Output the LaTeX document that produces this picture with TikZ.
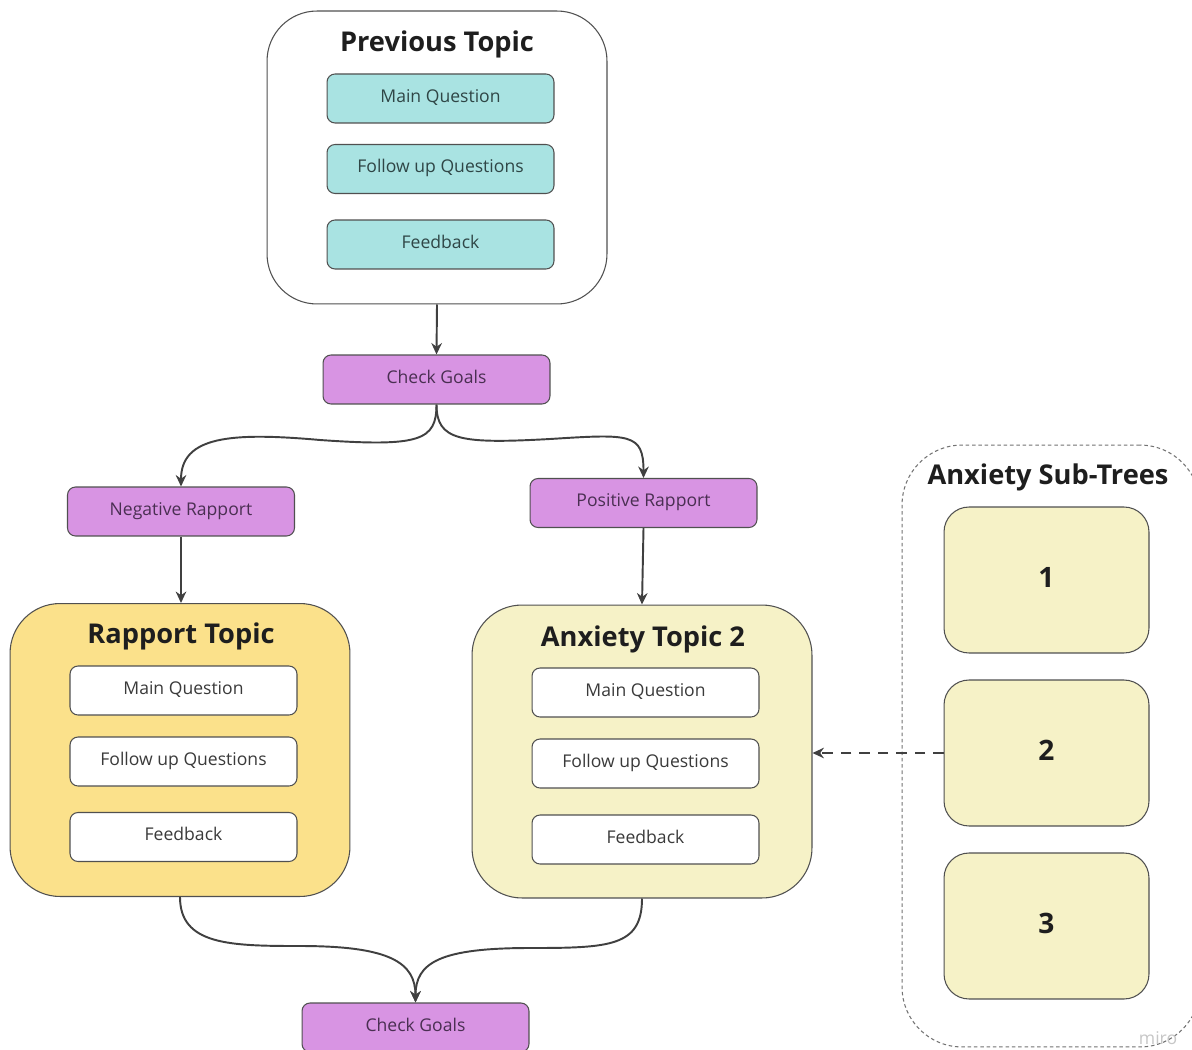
\documentclass[tikz,border=0pt]{standalone}
\usepackage{fontspec}
\setmainfont{Open Sans}
\usetikzlibrary{arrows.meta}
\definecolor{tealfill}{HTML}{A9E3E2}
\definecolor{purplefill}{HTML}{D894E3}
\definecolor{rapfill}{HTML}{FBE18B}
\definecolor{anxfill}{HTML}{F6F2C7}
\definecolor{edge}{HTML}{505050}
\definecolor{ink}{HTML}{1E1E1E}
\definecolor{bodyink}{HTML}{3A3A3A}
\definecolor{purpleink}{HTML}{4A2F52}
\definecolor{tealink}{HTML}{2F4646}
\begin{document}
\begin{tikzpicture}[x=0.02cm,y=-0.02cm,
  topic/.style={draw=edge,line width=0.6pt,rounded corners=1cm,minimum width=6.8cm,minimum height=5.86cm},
  item/.style={draw=edge,line width=0.6pt,rounded corners=0.16cm,minimum width=4.54cm,minimum height=0.98cm,
    text height=7pt,text depth=2.5pt,font=\fontsize{10}{12}\selectfont,text=bodyink},
  tealitem/.style={item,fill=tealfill,text=tealink},
  whiteitem/.style={item,fill=white},
  decision/.style={item,fill=purplefill,text=purpleink},
  title/.style={font=\fontsize{15.5}{18}\selectfont\bfseries,text=ink},
  subtree/.style={draw=edge,line width=0.6pt,fill=anxfill,rounded corners=0.5cm,minimum width=4.1cm,minimum height=2.92cm,
    text height=12pt,text depth=4pt,font=\fontsize{16}{18}\selectfont\bfseries,text=ink},
  arr/.style={draw=ink!85,line width=1.1pt,-{Stealth[length=6.5pt,width=6pt]}},
]
\useasboundingbox (0,0) rectangle (1192,1050);
\clip (0,0) rectangle (1192,1050);
\fill[white] (0,0) rectangle (1192,1050);

% previous topic
\node[topic,fill=white] (prev) at (437,157.5) {};
\node[title] (prevtitle) at (437,44) {Previous Topic};
\node[tealitem] (pmq) at (440.5,98.5) {Main Question};
\node[tealitem] (pfu) at (440.5,169) {Follow up Questions};
\node[tealitem] (pfb) at (440.5,244.5) {Feedback};

% goal check after the previous topic
\node[decision] (cg1) at (436.5,379.5) {Check Goals};
\draw[arr] (prev.south) -- (cg1.north);

% rapport outcomes
\node[decision] (neg) at (181,511.5) {Negative Rapport};
\node[decision] (pos) at (643.5,503) {Positive Rapport};
\draw[arr] (cg1.south) .. controls +(0,36) and +(100,7) .. (320,440)
  .. controls +(-90,-8) and +(0,-50) .. (neg.north);
\draw[arr] (cg1.south) .. controls +(0,36) and +(-90,5) .. (550,439)
  .. controls +(80,-5) and +(0,-45) .. (pos.north);

% rapport topic
\node[topic,fill=rapfill] (rap) at (180,750) {};
\node[title] (raptitle) at (181,636) {Rapport Topic};
\node[whiteitem] (rmq) at (183.5,690.5) {Main Question};
\node[whiteitem] (rfu) at (183.5,761.5) {Follow up Questions};
\node[whiteitem] (rfb) at (183.5,837) {Feedback};

% anxiety topic
\node[topic,fill=anxfill] (anx) at (642,751.5) {};
\node[title] (anxtitle) at (643,639) {Anxiety Topic 2};
\node[whiteitem] (amq) at (645.5,692.5) {Main Question};
\node[whiteitem] (afu) at (645.5,763.5) {Follow up Questions};
\node[whiteitem] (afb) at (645.5,839.5) {Feedback};

\draw[arr] (neg.south) -- (neg.south |- rap.north);
\draw[arr] (pos.south) -- (anx.north);

% goal check after the topics
\node[decision] (cg2) at (415.5,1027.5) {Check Goals};
\draw[arr] (rap.south) .. controls +(0,48) and +(-70,0) .. (300,946)
  .. controls +(90,0) and +(0,-40) .. (cg2.north);
\draw[arr] (anx.south) .. controls +(0,48) and +(80,0) .. (530,948)
  .. controls +(-90,0) and +(0,-40) .. (cg2.north);

% anxiety sub-trees
\node[draw=edge!80,line width=0.6pt,dash pattern=on 2pt off 1.6pt,rounded corners=1.2cm,
  minimum width=5.96cm,minimum height=12.04cm] (subs) at (1051,746) {};
\node[title] (substitle) at (1048,477) {Anxiety Sub-Trees};
\node[subtree] (s1) at (1046.5,580) {1};
\node[subtree] (s2) at (1046.5,753) {2};
\node[subtree] (s3) at (1046.5,926) {3};
\draw[arr,dashed,dash pattern=on 6pt off 4.5pt] (s2.west) -- (s2.west -| anx.east);

% watermark
\node[text=black!22,font=\fontsize{10}{12}\selectfont] (mark) at (1158,1038) {miro};
\end{tikzpicture}
\end{document}
